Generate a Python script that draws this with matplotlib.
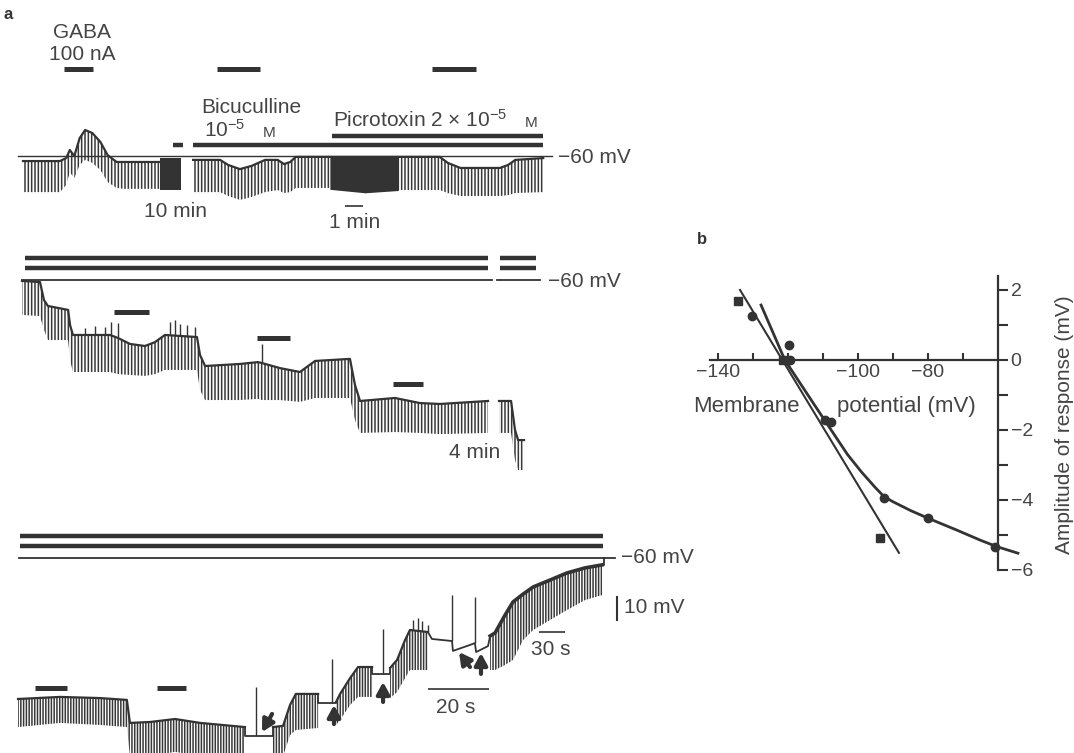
import numpy as np
import matplotlib.pyplot as plt

plt.rcParams['font.family'] = ['Liberation Sans', 'DejaVu Sans']
plt.rcParams['mathtext.default'] = 'regular'
plt.rcParams['hatch.linewidth'] = 1.1

ink = '#333333'
txt = '#444444'
W, H = 1074, 753

# ---------------- panel a, top row (time in min, potential in mV) ----------------
r1a_t = [0, 2.05, 2.4, 2.6, 2.85, 3.15, 3.45, 3.85, 4.3, 4.7, 5.2, 5.65, 7.6]
r1a_v = [-62.2, -62.2, -60.9, -57.4, -60.0, -52.2, -48.7, -50.0, -53.9, -59.6, -62.6, -62.6, -62.6]
r1a_p = [-75.7, -75.7, -72.6, -67.0, -69.6, -63.9, -61.7, -63.0, -66.1, -71.3, -73.9, -74.3, -74.3]
r1_fast1_t = [7.6, 8.8]
r1_fast1_v = [-61.0, -61.0]
r1_fast1_p = [-74.8, -74.8]
r1b_t = [9.45, 10.95, 11.4, 12.05, 12.7, 13.45, 14.15, 14.5, 14.85, 15.15, 17.05,
         20.85, 23.15, 23.6, 24.3, 26.5, 26.95, 27.35, 28.9]
r1b_v = [-61.7, -61.7, -63.9, -65.7, -64.3, -61.7, -61.7, -63.5, -62.6, -60.4, -60.4,
         -60.4, -60.4, -63.0, -65.2, -65.2, -63.9, -61.7, -60.9]
r1b_p = [-75.7, -75.7, -77.4, -79.1, -77.8, -75.7, -74.8, -76.1, -75.7, -73.9, -73.9,
         -74.8, -74.8, -76.1, -77.4, -77.4, -77.0, -76.1, -75.7]
r1_fast2_t = [17.05, 19.0, 20.85]
r1_fast2_v = [-60.4, -60.4, -60.4]
r1_fast2_p = [-74.5, -76.0, -75.0]
r1_gaba_on = [2.3, 10.8, 22.7]
r1_gaba_off = [3.9, 13.15, 25.15]
r1_drug_small = [8.35, 8.9]
r1_bicuculline = [9.45, 28.9]
r1_picrotoxin = [17.15, 28.9]

# ---------------- panel a, middle row ----------------
r2a_t = [0, 1.0, 1.22, 1.44, 2.56, 2.67, 2.83, 4.89, 5.33, 6.0, 6.83, 7.39, 7.94, 9.72, 9.89,
         10.17, 12.11, 13.11, 13.33, 14.33, 15.44, 16.28, 18.22, 18.5, 18.78, 20.72, 22.11, 23.22, 25.89]
r2a_v = [-60.4, -60.9, -68.7, -71.3, -73.0, -79.6, -83.9, -83.9, -85.2, -87.8, -88.7, -87.0, -83.9, -84.8, -92.6,
         -97.4, -96.5, -95.7, -96.1, -98.3, -100.0, -95.2, -94.3, -105.7, -112.6, -111.3, -113.5, -113.9, -112.6]
r2a_p = [-75.2, -75.7, -81.7, -86.1, -86.1, -94.8, -100.0, -100.0, -100.9, -101.3, -101.7, -100.9, -99.1, -99.1, -107.8,
         -112.2, -112.2, -111.7, -112.2, -112.2, -113.0, -111.3, -111.3, -120.9, -126.5, -126.1, -126.5, -127.0, -126.5]
r2b_t = [26.5, 27.17, 27.39, 27.56, 27.89]
r2b_v = [-112.6, -112.6, -125.2, -129.6, -129.6]
r2b_p = [-126.5, -126.5, -138.3, -142.6, -142.6]
r2_spike_t = [3.5, 4.06, 4.6, 4.94, 5.33, 8.22, 8.5, 8.78, 9.17, 9.61, 13.33]
r2_spike_from = [-83.9, -83.9, -83.9, -84.3, -84.6, -84.0, -84.2, -84.4, -84.6, -84.7, -96.1]
r2_spike_to = [-80.9, -80.0, -80.5, -78.3, -78.7, -78.3, -77.4, -79.1, -79.6, -80.4, -87.8]
r2_gaba_on = [5.1, 13.05, 20.6]
r2_gaba_off = [7.05, 14.9, 22.3]
r2_lines = [[0.17, 25.9], [26.55, 28.55]]

# ---------------- panel a, bottom row (time in s) ----------------
r3_pulse_t = [
    [0, 13.8, 26.9, 35.7, 36.7, 43.3, 51.5, 59.7, 74.4],
    [83.6, 86.9, 89.2, 91.1, 98.4],
    [104.3, 105.6, 108.9, 111.5, 116.1],
    [122.0, 124.3, 126.9, 128.5, 134.4],
    [154.8, 156.4, 159.7, 162.3, 165.6, 168.9, 174.4, 180.0, 185.9, 191.5],
]
r3_pulse_v = [
    [-121.3, -120.4, -120.9, -121.7, -131.7, -131.3, -130.0, -131.7, -133.5],
    [-133.5, -133.0, -123.9, -119.1, -119.1],
    [-122.6, -119.1, -112.2, -107.4, -107.4],
    [-107.8, -104.3, -95.7, -91.3, -92.2],
    [-93.9, -92.6, -84.8, -79.1, -75.7, -72.6, -69.6, -66.5, -64.3, -63.0],
]
r3_pulse_p = [
    [-133.5, -131.7, -132.6, -133.5, -146.1, -146.1, -144.3, -146.1, -146.1],
    [-146.1, -146.1, -137.0, -134.8, -133.9],
    [-132.6, -130.4, -123.9, -120.4, -120.4],
    [-120.9, -118.3, -112.2, -108.7, -108.7],
    [-108.7, -108.7, -106.5, -104.3, -95.7, -91.3, -87.0, -82.6, -78.3, -76.1],
]
# stretches where the pulses were stopped
r3_flat_t = [
    [74.4, 74.4, 83.6, 83.6],
    [98.4, 98.4, 104.3, 104.3],
    [116.1, 116.1, 122.0, 122.0],
    [134.4, 135.7, 142.3, 142.6, 148.2, 149.8, 150.2, 154.1, 154.8],
    [191.5, 192.1, 192.1],
]
r3_flat_v = [
    [-133.5, -137.4, -137.4, -133.5],
    [-119.1, -123.0, -123.0, -122.6],
    [-107.4, -110.4, -110.4, -107.8],
    [-92.2, -95.2, -96.1, -100.4, -97.8, -97.0, -100.9, -98.3, -93.9],
    [-63.0, -63.0, -60.0],
]
r3_spike_t = [78.0, 103.0, 119.7, 129.5, 131.0, 132.5, 134.4, 142.3, 149.8]
r3_spike_from = [-137.4, -123.0, -110.4, -91.5, -91.5, -91.8, -92.2, -96.1, -97.0]
r3_spike_to = [-116.1, -103.9, -90.9, -87.0, -86.1, -87.5, -89.1, -76.1, -77.0]
r3_gaba_on = [5.6, 45.6]
r3_gaba_off = [16.1, 55.1]

# ---------------- panel b ----------------
sq_v = [-134.3, -121.3, -93.7]
sq_a = [1.69, 0.0, -5.08]
ci_v = [-130.3, -119.7, -119.4, -109.4, -107.7, -92.6, -80.0, -60.9]
ci_a = [1.26, 0.43, 0.0, -1.71, -1.78, -3.95, -4.5, -5.35]
fit_v = [-133.7, -88.3]
fit_a = [2.0, -5.51]
curve_v = [-127.7, -120.9, -113.0, -108.0, -103.0, -99.0, -95.0, -92.6, -90.0, -85.0,
           -80.0, -72.0, -65.0, -60.4, -54.3]
curve_a = [1.57, 0.0, -1.2, -1.95, -2.7, -3.2, -3.65, -3.9, -4.05, -4.3,
           -4.52, -4.85, -5.15, -5.33, -5.52]

fig = plt.figure(figsize=(W / 100, H / 100), dpi=100)
fig.patch.set_facecolor('white')


def row_axes(x0, sx, y60, sy=2.3):
    # one axes across the whole figure, scaled so the row sits where it should
    ax = fig.add_axes([0, 0, 1, 1])
    ax.set_xlim(-x0 / sx, (W - x0) / sx)
    ax.set_ylim(-60 - (H - y60) / sy, -60 + y60 / sy)
    ax.axis('off')
    return ax


def pulses(ax, t, v, p, hatch='|||||', lw=1.6):
    ax.fill_between(t, v, p, facecolor='none', edgecolor='#383838', hatch=hatch, linewidth=0)
    ax.plot(t, v, color=ink, lw=lw)


def fast(ax, t, v, p):
    ax.fill_between(t, v, p, color=ink, linewidth=0)


def hbar(ax, a, b, y, lw=3.2):
    ax.plot([a, b], [y, y], color=ink, lw=lw, solid_capstyle='butt')


def label(x, y, s, ha='left', size=15, **kw):
    fig.text(x / W, 1 - y / H, s, ha=ha, va='baseline', fontsize=size, color=txt, **kw)


# top row
ax1 = row_axes(23, 18, 156)
pulses(ax1, r1a_t, r1a_v, r1a_p)
fast(ax1, r1_fast1_t, r1_fast1_v, r1_fast1_p)
pulses(ax1, r1b_t, r1b_v, r1b_p)
fast(ax1, r1_fast2_t, r1_fast2_v, r1_fast2_p)
for a, b in zip(r1_gaba_on, r1_gaba_off):
    hbar(ax1, a, b, -22.2, lw=3.6)
hbar(ax1, *r1_drug_small, -55.2)
hbar(ax1, *r1_bicuculline, -55.2)
hbar(ax1, *r1_picrotoxin, -51.3)
ax1.plot([-0.3, 29.4], [-60, -60], color=ink, lw=1.0)
hbar(ax1, 17.9, 18.9, -81.7, lw=1.2)   # 1 min

# middle row
ax2 = row_axes(22, 18, 280)
pulses(ax2, r2a_t, r2a_v, r2a_p)
pulses(ax2, r2b_t, r2b_v, r2b_p)
ax2.vlines(r2_spike_t, r2_spike_from, r2_spike_to, color=ink, lw=1.0)
for a, b, lvl in zip(r2_gaba_on, r2_gaba_off, [-73.9, -85.2, -105.2]):
    hbar(ax2, a, b, lvl, lw=3.6)
for a, b in r2_lines:
    hbar(ax2, a, b, -50.4)
    hbar(ax2, a, b, -54.8)
    ax2.plot([a - 0.15, b + 0.2], [-60, -60], color=ink, lw=1.3)

# bottom row
ax3 = row_axes(18, 3.05, 558)
for k in range(len(r3_pulse_t)):
    pulses(ax3, r3_pulse_t[k], r3_pulse_v[k], r3_pulse_p[k], hatch='||||||',
           lw=2.6 if k == 4 else 1.6)
for t, v in zip(r3_flat_t, r3_flat_v):
    ax3.plot(t, v, color=ink, lw=1.3)
ax3.vlines(r3_spike_t, r3_spike_from, r3_spike_to, color=ink, lw=1.0)
for a, b in zip(r3_gaba_on, r3_gaba_off):
    hbar(ax3, a, b, -116.5, lw=3.6)
hbar(ax3, 0.66, 191.8, -50.4)
hbar(ax3, 0.66, 191.8, -54.8)
ax3.plot([0.3, 195.7], [-60, -60], color=ink, lw=1.3)
# scale bars
ax3.plot([196.4, 196.4], [-87, -77], color=ink, lw=1.5)
hbar(ax3, 170.8, 179.3, -92.2, lw=1.2)
hbar(ax3, 134.4, 154.4, -117.0, lw=1.2)
# arrows
arrows = [((80.0, -135.7), (83.3, -127.8)), ((103.6, -123.9), (103.6, -132.2)),
          ((119.7, -113.9), (119.7, -122.6)), ((144.6, -100.9), (148.2, -107.4)),
          ((151.8, -101.3), (151.8, -110.4))]
for head, tail in arrows:
    ax3.annotate('', xy=head, xytext=tail,
                 arrowprops=dict(arrowstyle='-|>,head_width=0.38,head_length=0.7',
                                 lw=3.0, color=ink, shrinkA=0, shrinkB=0))

# texts of panel a
fig.text(4 / W, 1 - 19 / H, 'a', fontsize=12, weight='bold', color=ink, va='baseline')
label(82, 38, 'GABA', ha='center')
label(82, 60, '100 nA', ha='center')
label(251, 113, 'Bicuculline', ha='center')
label(204, 137, r'10$^{-5}$')
label(263, 137, 'M', size=11)
label(333, 127, r'Picrotoxin 2 $\times$ 10$^{-5}$')
label(525, 127, 'M', size=11)
label(558, 163, '\u221260 mV')
label(175, 217, '10 min', ha='center')
label(355, 228, '1 min', ha='center')
label(548, 287, '\u221260 mV')
label(475, 458, '4 min', ha='center')
label(621, 563, '\u221260 mV')
label(624, 613, '10 mV')
label(551, 655, '30 s', ha='center')
label(456, 713, '20 s', ha='center')

# ---------------- panel b ----------------
axb = fig.add_axes([0, 0, 1, 1])
axb.patch.set_visible(False)
axb.set_xlim(-1208 / 3.5, (W - 1208) / 3.5)
axb.set_ylim(-(H - 360) / 35, 360 / 35)
axb.spines['top'].set_visible(False)
axb.spines['left'].set_visible(False)
axb.spines['bottom'].set_position(('data', 0))
axb.spines['bottom'].set_bounds(-142.3, -60)
axb.spines['right'].set_position(('data', -60))
axb.spines['right'].set_bounds(-6, 2.4)
for s in ['bottom', 'right']:
    axb.spines[s].set_linewidth(1.6)
    axb.spines[s].set_color(ink)
axb.xaxis.set_ticks_position('bottom')
axb.yaxis.set_ticks_position('right')
axb.set_xticks(np.arange(-140, -65, 10))
axb.set_xticklabels(['\u2212140', '', '', '', '\u2212100', '', '\u221280', ''])
axb.set_yticks(np.arange(-6, 3, 1))
axb.set_yticklabels(['\u22126', '', '\u22124', '', '\u22122', '', '0', '', '2'])
axb.tick_params(axis='x', direction='in', length=5, width=1.5, pad=3, labelsize=14,
                color=ink, labelcolor=txt)
axb.tick_params(axis='y', direction='out', length=7, width=1.5, pad=2, labelsize=14,
                color=ink, labelcolor=txt)

axb.plot(fit_v, fit_a, color=ink, lw=1.5)
axb.plot(curve_v, curve_a, color=ink, lw=2.0)
axb.plot(ci_v, ci_a, 'o', ms=6, color=ink)
axb.plot(sq_v, sq_a, 's', ms=6, color=ink)

fig.text(697 / W, 1 - 244 / H, 'b', fontsize=12, weight='bold', color=ink, va='baseline')
label(693, 412, 'Membrane', size=16)
label(837, 412, 'potential (mV)', size=16)
fig.text(1064 / W, 1 - 425 / H, 'Amplitude of response (mV)', rotation=90,
         ha='center', va='center', fontsize=15, color=txt)

fig.savefig('out.png', dpi=100, facecolor='white')
